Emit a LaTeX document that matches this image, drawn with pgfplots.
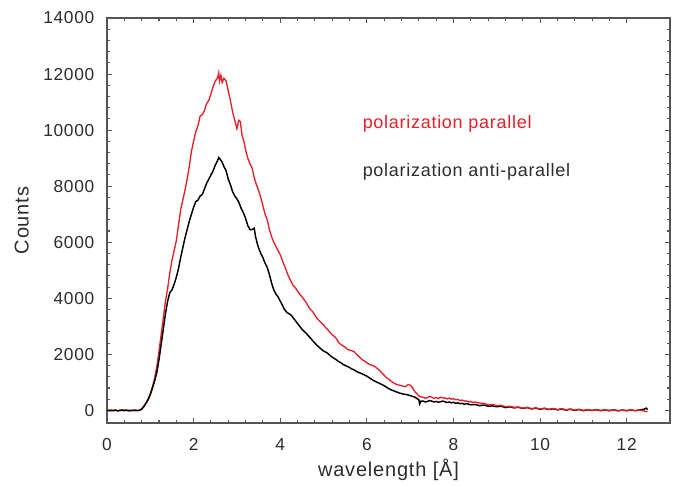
\documentclass[border=0pt]{standalone}
\usepackage{pgfplots}
\pgfplotsset{compat=1.18}
\usepackage{fontspec}
\setmainfont[LetterSpace=4]{Liberation Sans}
\usetikzlibrary{calc}
\definecolor{redline}{RGB}{232,30,40}
\definecolor{txtgray}{RGB}{45,45,45}
\definecolor{axgray}{RGB}{85,85,85}

\begin{document}
\begin{tikzpicture}
\begin{axis}[
  scale only axis, width=422.25pt, height=303.75pt,
  xmin=0, xmax=13, ymin=-450, ymax=14000,
  xtick={0,2,...,12}, ytick={0,2000,...,14000},
  minor x tick num=4, minor y tick num=4,
  tick align=inside,
  major tick length=4pt, minor tick length=2.5pt,
  axis line style={axgray, line width=0.9pt},
  every tick/.style={axgray, line width=0.8pt},
  scaled y ticks=false,
  /pgf/number format/1000 sep={},
  /pgf/number format/assume math mode=true,
  tick label style={font=\fontsize{13}{15}\selectfont, txtgray},
  xticklabel shift=8pt,
  y tick label style={xshift=-6pt},
  xlabel={wavelength [Å]}, ylabel={Counts},
  label style={font=\fontsize{15}{18}\selectfont, txtgray},
  xlabel style={at={(axis description cs:0.5,0)}, anchor=center, yshift=-35pt},
  ylabel style={yshift=4pt},
]
\addplot[redline, line width=1pt] coordinates {
(0.00,-10) (0.05,15) (0.10,-20) (0.15,5) (0.20,20) (0.25,-15) (0.30,10) (0.35,-10)
(0.40,15) (0.45,-5) (0.50,5) (0.55,-20) (0.60,10) (0.65,-15) (0.70,5) (0.75,0)
(0.80,60) (0.85,150) (0.90,270) (0.95,420) (1.00,600) (1.05,850) (1.10,1150)
(1.15,1550) (1.20,2100) (1.25,2700) (1.30,3300) (1.35,3900) (1.40,4350)
(1.45,4900) (1.50,5350) (1.55,5700) (1.60,6050) (1.65,6600) (1.70,7150)
(1.75,7500) (1.80,7850) (1.85,8250) (1.90,8700) (1.95,9250) (2.00,9600)
(2.05,9950) (2.10,10150) (2.15,10500) (2.20,10550) (2.25,10700) (2.30,10950)
(2.35,11050) (2.40,11300) (2.45,11550) (2.50,11750) (2.55,11850) (2.58,12050)
(2.60,11750) (2.63,11950) (2.66,11700) (2.70,11850) (2.75,11750) (2.80,11400)
(2.85,11050) (2.90,10650) (2.95,10350) (3.00,10050) (3.04,10350) (3.08,10300)
(3.12,9800) (3.16,9600) (3.20,9300) (3.25,9000) (3.30,8800) (3.35,8650)
(3.40,8300) (3.45,8050) (3.50,7850) (3.55,7600) (3.60,7300) (3.65,7000)
(3.70,6800) (3.75,6450) (3.80,6200) (3.85,6000) (3.90,5850) (3.95,5700)
(4.00,5550) (4.05,5350) (4.10,5150) (4.15,4950) (4.20,4750) (4.25,4600)
(4.30,4450) (4.35,4380) (4.40,4250) (4.45,4150) (4.50,4050) (4.55,3950)
(4.60,3850) (4.65,3700) (4.70,3600) (4.75,3520) (4.80,3400) (4.85,3280)
(4.90,3200) (4.95,3120) (5.00,3050) (5.05,2950) (5.10,2880) (5.15,2780)
(5.20,2700) (5.25,2640) (5.30,2550) (5.35,2420) (5.40,2350) (5.45,2300)
(5.50,2250) (5.55,2180) (5.60,2150) (5.65,2130) (5.70,2100) (5.75,2020)
(5.80,1950) (5.85,1870) (5.90,1800) (5.95,1760) (6.00,1700) (6.05,1650)
(6.10,1620) (6.15,1590) (6.20,1550) (6.25,1480) (6.30,1420) (6.35,1330)
(6.40,1250) (6.45,1170) (6.50,1120) (6.55,1050) (6.60,1000) (6.65,950)
(6.70,920) (6.75,900) (6.80,880) (6.85,860) (6.90,850) (6.95,920) (7.00,900)
(7.05,820) (7.10,680)
};
\addplot[black, line width=1.1pt] coordinates {
(0.00,0) (0.05,-15) (0.10,10) (0.15,-10) (0.20,5) (0.25,-20) (0.30,0) (0.35,15)
(0.40,-10) (0.45,10) (0.50,-15) (0.55,5) (0.60,-5) (0.65,10) (0.70,-10) (0.75,5)
(0.80,40) (0.85,130) (0.90,250) (0.95,380) (1.00,560) (1.05,800) (1.10,1050)
(1.15,1350) (1.20,1800) (1.25,2350) (1.30,2900) (1.35,3450) (1.40,3900)
(1.45,4200) (1.50,4300) (1.55,4500) (1.60,4750) (1.65,5050) (1.70,5450)
(1.75,5800) (1.80,6150) (1.85,6450) (1.90,6750) (1.95,7000) (2.00,7250)
(2.05,7450) (2.10,7500) (2.15,7650) (2.20,7700) (2.25,7900) (2.30,8100)
(2.35,8250) (2.40,8400) (2.45,8550) (2.50,8750) (2.55,8900) (2.58,9020)
(2.62,8950) (2.66,8850) (2.70,8700) (2.75,8550) (2.80,8250) (2.85,8050)
(2.90,7800) (2.95,7650) (3.00,7550) (3.05,7400) (3.10,7200) (3.15,7050)
(3.20,6850) (3.25,6600) (3.30,6450) (3.35,6450) (3.40,6500) (3.43,6200)
(3.47,5950) (3.50,5800) (3.55,5600) (3.60,5450) (3.65,5250) (3.70,5100)
(3.75,4850) (3.80,4550) (3.85,4300) (3.90,4150) (3.95,4050) (4.00,3900)
(4.05,3750) (4.10,3600) (4.15,3500) (4.20,3450) (4.25,3400) (4.30,3300)
(4.35,3200) (4.40,3100) (4.45,3000) (4.50,2900) (4.55,2820) (4.60,2750)
(4.65,2660) (4.70,2580) (4.75,2480) (4.80,2400) (4.85,2320) (4.90,2250)
(4.95,2180) (5.00,2120) (5.05,2080) (5.10,2030) (5.15,1960) (5.20,1900)
(5.25,1850) (5.30,1800) (5.35,1740) (5.40,1700) (5.45,1640) (5.50,1600)
(5.55,1570) (5.60,1530) (5.65,1480) (5.70,1450) (5.75,1400) (5.80,1360)
(5.85,1330) (5.90,1300) (5.95,1260) (6.00,1220) (6.05,1170) (6.10,1120)
(6.15,1070) (6.20,1030) (6.25,990) (6.30,960) (6.35,920) (6.40,880)
(6.45,830) (6.50,780) (6.55,740) (6.60,710) (6.65,680) (6.70,650) (6.75,620)
(6.80,600) (6.85,580) (6.90,570) (6.95,550) (7.00,530) (7.05,500) (7.10,480)
(7.15,430) (7.20,380) (7.22,230) (7.25,330) (7.30,330) (7.35,300) (7.40,320)
(7.45,350) (7.50,330) (7.55,300) (7.60,320) (7.65,290) (7.70,310) (7.75,330)
(7.80,310) (7.85,280) (7.90,300) (7.95,270) (8.00,290) (8.05,250) (8.10,270)
(8.15,240) (8.20,250) (8.25,220) (8.30,240) (8.40,200) (8.50,210) (8.60,170)
(8.70,190) (8.80,150) (8.90,160) (9.00,130) (9.10,150) (9.20,100) (9.30,130)
(9.40,90) (9.50,110) (9.60,70) (9.70,100) (9.80,50) (9.90,80) (10.00,40)
(10.10,70) (10.20,30) (10.30,60) (10.40,20) (10.50,50) (10.60,10) (10.70,40)
(10.80,0) (10.90,30) (11.00,-10) (11.10,20) (11.20,0) (11.30,25) (11.40,-10)
(11.50,15) (11.60,-5) (11.70,20) (11.80,-15) (11.90,10) (12.00,-5) (12.10,15)
(12.20,-10) (12.30,20) (12.40,40) (12.45,80) (12.48,30)
};
\addplot[redline, line width=1pt, forget plot] coordinates {
(7.10,680) (7.15,600) (7.20,520) (7.25,480) (7.30,470) (7.35,430)
(7.40,460) (7.45,500) (7.50,470) (7.55,430) (7.60,460) (7.65,420) (7.70,470)
(7.75,440) (7.80,450) (7.85,410) (7.90,440) (7.95,400) (8.00,420) (8.05,380)
(8.10,390) (8.15,350) (8.20,370) (8.25,330) (8.30,340) (8.35,300) (8.40,320)
(8.45,280) (8.50,300) (8.60,260) (8.70,250) (8.80,200) (8.90,210) (9.00,170)
(9.10,180) (9.20,130) (9.30,150) (9.40,110) (9.50,120) (9.60,80) (9.70,110)
(9.80,60) (9.90,90) (10.00,50) (10.10,80) (10.20,40) (10.30,70) (10.40,30)
(10.50,60) (10.60,20) (10.70,50) (10.80,10) (10.90,40) (11.00,0) (11.10,30)
(11.20,-10) (11.30,30) (11.40,0) (11.50,20) (11.60,-20) (11.70,20) (11.80,-10)
(11.90,10) (12.00,-20) (12.10,20) (12.20,-10) (12.30,10) (12.40,-20) (12.48,-50)
};
\node[anchor=west, inner sep=0pt, redline, font=\fontsize{13.5}{16}\selectfont]
  at (axis cs:5.9,10214) {polarization parallel};
\node[anchor=west, inner sep=0pt, txtgray, font=\fontsize{13.5}{16}\selectfont]
  at (axis cs:5.9,8500) {polarization anti-parallel};
\end{axis}
\path ($(current axis.south west)+(-80.25pt,-46.5pt)$) rectangle
      ($(current axis.north east)+(7.5pt,13.5pt)$);
\end{tikzpicture}
\end{document}
